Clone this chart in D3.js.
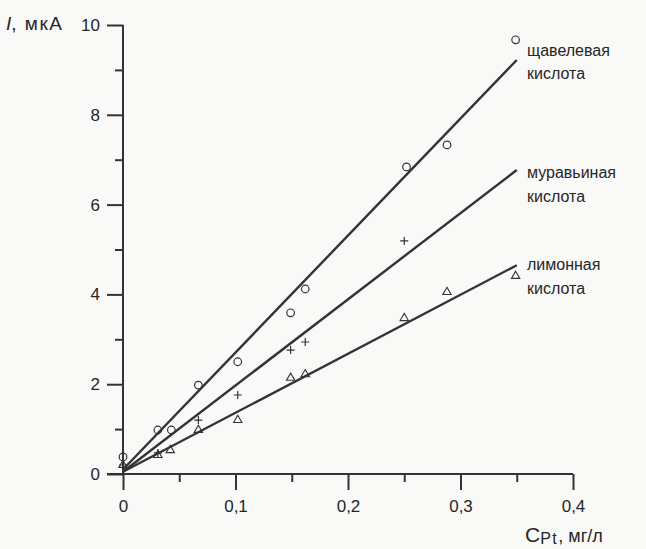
<!DOCTYPE html>
<html>
<head>
<meta charset="utf-8">
<script src="https://cdn.jsdelivr.net/npm/d3@7"></script>
<style>
  body { margin: 0; background: #f9f9f8; }
  svg { font-family: "Liberation Sans", Arial, sans-serif; }
</style>
</head>
<body>
<div id="chart"></div>
<script>
// data
const oxalic = [[0, 0.38], [0.031, 0.98], [0.043, 0.98], [0.067, 1.98], [0.102, 2.5],
  [0.149, 3.59], [0.162, 4.12], [0.252, 6.84], [0.288, 7.33], [0.349, 9.67]];
const formic = [[0, 0.2], [0.031, 0.47], [0.067, 1.2], [0.102, 1.76],
  [0.149, 2.76], [0.162, 2.94], [0.25, 5.19]];
const citric = [[0, 0.2], [0.031, 0.42], [0.042, 0.53], [0.067, 0.98], [0.102, 1.2],
  [0.149, 2.14], [0.162, 2.22], [0.25, 3.47], [0.288, 4.05], [0.349, 4.41]];
// fitted lines (start, end)
const oxalicFit = [[0, 0.1], [0.35, 9.22]];
const formicFit = [[0, 0.05], [0.35, 6.77]];
const citricFit = [[0, 0.05], [0.35, 4.65]];
const xMajor = [0, 0.1, 0.2, 0.3, 0.4];
const xMinor = [0.05, 0.15, 0.25, 0.35];
const yMajor = [0, 2, 4, 6, 8, 10];
const yMinor = [1, 3, 5, 7, 9];
const labels = [
  {name: ["щавелевая", "кислота"], y: 9.31},
  {name: ["муравьиная", "кислота"], y: 6.59},
  {name: ["лимонная", "кислота"], y: 4.54}
];

const width = 646, height = 549;
const ink = "#333333";
const textInk = "#262626";

const svg = d3.select("#chart").append("svg")
  .attr("width", width).attr("height", height);

const x = d3.scaleLinear().domain([0, 0.4]).range([123, 573]);
const y = d3.scaleLinear().domain([0, 10]).range([474, 25]);

function styleAxis(g) {
  g.select(".domain").remove();
  g.selectAll(".tick line").attr("stroke", ink).attr("stroke-width", 2);
  g.selectAll(".tick text").attr("fill", textInk)
    .attr("font-size", 17).attr("font-family", "Liberation Sans, Arial, sans-serif");
}

// x axis
svg.append("line").attr("x1", 107).attr("x2", x(0.4))
  .attr("y1", y(0)).attr("y2", y(0))
  .attr("stroke", ink).attr("stroke-width", 2);
svg.append("g").attr("transform", `translate(0, ${y(0)})`)
  .call(d3.axisBottom(x).tickValues(xMajor).tickSize(16).tickPadding(10)
    .tickFormat(d => d === 0 ? "0" : d3.format(".1f")(d).replace(".", ",")))
  .call(styleAxis);
svg.append("g").attr("transform", `translate(0, ${y(0)})`)
  .call(d3.axisBottom(x).tickValues(xMinor).tickSize(8).tickFormat(""))
  .call(styleAxis);

// y axis
svg.append("line").attr("x1", x(0)).attr("x2", x(0))
  .attr("y1", y(10)).attr("y2", y(0))
  .attr("stroke", ink).attr("stroke-width", 2);
svg.append("g").attr("transform", `translate(${x(0)}, 0)`)
  .call(d3.axisLeft(y).tickValues(yMajor).tickSize(16).tickPadding(7))
  .call(styleAxis);
svg.append("g").attr("transform", `translate(${x(0)}, 0)`)
  .call(d3.axisLeft(y).tickValues(yMinor).tickSize(8).tickFormat(""))
  .call(styleAxis);

// axis titles
const yt = svg.append("text").attr("x", 6).attr("y", 30)
  .attr("font-size", 19).attr("fill", textInk);
yt.append("tspan").attr("font-style", "italic").text("I");
yt.append("tspan").attr("letter-spacing", 1.5).text(", мкА");

const xt = svg.append("text").attr("x", 525).attr("y", 542)
  .attr("fill", textInk);
xt.append("tspan").attr("font-size", 21).text("C");
xt.append("tspan").attr("font-size", 16).attr("dy", 2).attr("letter-spacing", 1.5).text("Pt");
xt.append("tspan").attr("font-size", 18).attr("dy", -2).text(", мг/л");

// fitted lines
const line = d3.line().x(d => x(d[0])).y(d => y(d[1]));
[oxalicFit, formicFit, citricFit].forEach(f => {
  svg.append("path").attr("d", line(f))
    .attr("fill", "none").attr("stroke", ink).attr("stroke-width", 2.4);
});

// markers
svg.append("g").selectAll("circle").data(oxalic).enter().append("circle")
  .attr("cx", d => x(d[0])).attr("cy", d => y(d[1])).attr("r", 3.8)
  .attr("fill", "none").attr("stroke", ink).attr("stroke-width", 1.2);

svg.append("g").selectAll("path").data(formic).enter().append("path")
  .attr("transform", d => `translate(${x(d[0])}, ${y(d[1])})`)
  .attr("d", "M-4,0H4M0,-4V4")
  .attr("fill", "none").attr("stroke", ink).attr("stroke-width", 1.2);

svg.append("g").selectAll("path").data(citric).enter().append("path")
  .attr("transform", d => `translate(${x(d[0])}, ${y(d[1])})`)
  .attr("d", d3.symbol(d3.symbolTriangle, 30))
  .attr("fill", "none").attr("stroke", ink).attr("stroke-width", 1.1);

// series labels
labels.forEach(l => {
  const t = svg.append("text").attr("x", 527).attr("y", y(l.y))
    .attr("font-size", 16).attr("fill", textInk);
  l.name.forEach((s, i) => {
    t.append("tspan").attr("x", 527).attr("dy", i === 0 ? 0 : 23.5).text(s);
  });
});
</script>
</body>
</html>
